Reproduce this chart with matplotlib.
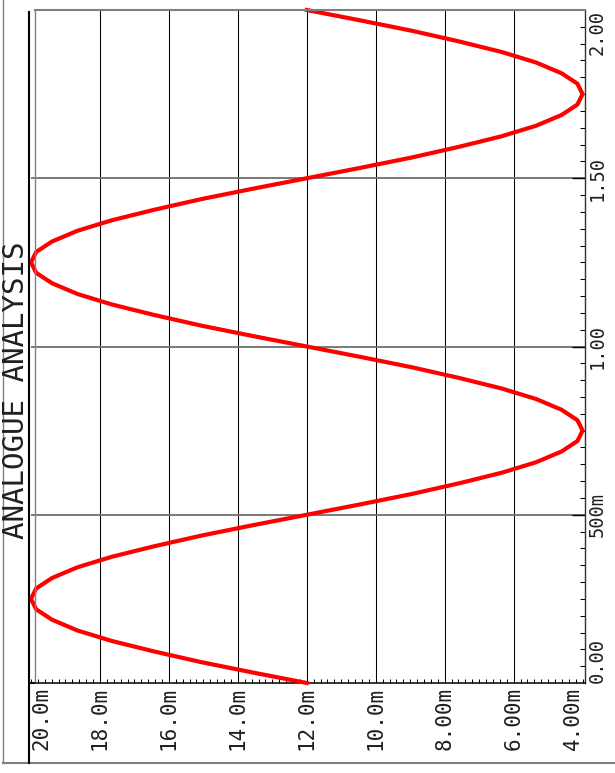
import numpy as np
import matplotlib
matplotlib.use("Agg")
import matplotlib.pyplot as plt
from matplotlib.lines import Line2D

# ── Dados ─────────────────────────────────────────────────────────────────────
# tempo (s) e tensão (mV) da curva
time_s = [0.000, 0.031, 0.062, 0.094, 0.125, 0.156, 0.188, 0.219,
          0.250, 0.281, 0.312, 0.344, 0.375, 0.406, 0.438, 0.469,
          0.500, 0.531, 0.562, 0.594, 0.625, 0.656, 0.688, 0.719,
          0.750, 0.781, 0.812, 0.844, 0.875, 0.906, 0.938, 0.969,
          1.000, 1.031, 1.062, 1.094, 1.125, 1.156, 1.188, 1.219,
          1.250, 1.281, 1.312, 1.344, 1.375, 1.406, 1.438, 1.469,
          1.500, 1.531, 1.562, 1.594, 1.625, 1.656, 1.688, 1.719,
          1.750, 1.781, 1.812, 1.844, 1.875, 1.906, 1.938, 1.969,
          2.000]
value_mv = [12.00, 13.56, 15.06, 16.44, 17.66, 18.65, 19.39, 19.85,
            20.00, 19.85, 19.39, 18.65, 17.66, 16.44, 15.06, 13.56,
            12.00, 10.44, 8.94, 7.56, 6.34, 5.35, 4.61, 4.15,
            4.00, 4.15, 4.61, 5.35, 6.34, 7.56, 8.94, 10.44,
            12.00, 13.56, 15.06, 16.44, 17.66, 18.65, 19.39, 19.85,
            20.00, 19.85, 19.39, 18.65, 17.66, 16.44, 15.06, 13.56,
            12.00, 10.44, 8.94, 7.56, 6.34, 5.35, 4.61, 4.15,
            4.00, 4.15, 4.61, 5.35, 6.34, 7.56, 8.94, 10.44,
            12.00]

# rótulos dos eixos
v_ticks = [20, 18, 16, 14, 12, 10, 8, 6, 4]
v_labels = ['20.0m', '18.0m', '16.0m', '14.0m', '12.0m',
            '10.0m', '8.00m', '6.00m', '4.00m']
t_ticks = [0.0, 0.5, 1.0, 1.5, 2.0]
t_labels = ['0.00', '500m', '1.00', '1.50', '2.00']
title = 'ANALOGUE ANALYSIS'

# ── Figura (gráfico girado 90°) ───────────────────────────────────────────────
W, H = 615, 773
fig = plt.figure(figsize=(W / 100, H / 100), dpi=100)
fig.patch.set_facecolor('white')

X0, X1, Y0, Y1 = 31, 585, 10, 683          # área do gráfico em pixels
ax = fig.add_axes([X0 / W, 1 - Y1 / H, (X1 - X0) / W, (Y1 - Y0) / H])
ax.set_xlim(20.0, 3.93)
ax.set_ylim(0.0, 2.0)
ax.set_facecolor('white')

for s in ['left', 'top']:
    ax.spines[s].set_visible(False)
ax.spines['right'].set_color('#303030')
ax.spines['right'].set_linewidth(1.0)
ax.spines['bottom'].set_color('black')
ax.spines['bottom'].set_linewidth(1.1)

# grade
ax.set_xticks([18, 16, 14, 12, 10, 8, 6])
ax.set_xticks(np.arange(4.0, 20.01, 0.2), minor=True)
ax.yaxis.tick_right()
ax.set_yticks([0.5, 1.0, 1.5])
ax.set_yticks([t for t in np.arange(0.05, 2.0, 0.05)
               if abs(t / 0.5 - round(t / 0.5)) > 1e-6], minor=True)
ax.grid(axis='x', which='major', color='black', lw=0.75)
ax.grid(axis='y', which='major', color='#707070', lw=1.3)
ax.tick_params(axis='x', which='major', length=0)
ax.tick_params(axis='x', which='minor', direction='in', length=3.0,
               width=0.75, color='black')
ax.tick_params(axis='y', which='major', direction='in', length=9.5,
               width=1.0, color='black')
ax.tick_params(axis='y', which='minor', direction='in', length=3.6,
               width=0.75, color='black')
ax.tick_params(labelbottom=False, labelleft=False, labelright=False)

# curva
ax.plot(value_mv, time_s, color='#ff0000', lw=3.0, clip_on=False, zorder=5)

# rótulos dos eixos (Proteus os mantém dentro da faixa)
mono = 'DejaVu Sans Mono'
for v, lab in zip(v_ticks, v_labels):
    ha = 'left' if v == v_ticks[0] else 'right' if v == v_ticks[-1] else 'center'
    ax.text(v, -4 / (Y1 - Y0), lab, transform=ax.get_xaxis_transform(),
            rotation=90, ha=ha, va='top', fontsize=15, family=mono,
            color='#202020')
for t, lab in zip(t_ticks, t_labels):
    va = 'bottom' if t == t_ticks[0] else 'top' if t == t_ticks[-1] else 'center'
    ax.text(1 + 3 / (X1 - X0), t, lab, transform=ax.get_yaxis_transform(),
            rotation=90, ha='left', va=va, fontsize=13.5, family=mono,
            color='#202020')


# ── Molduras ──────────────────────────────────────────────────────────────────
def fline(xa, ya, xb, yb, **kw):
    fig.add_artist(Line2D([xa / W, xb / W], [1 - ya / H, 1 - yb / H],
                          transform=fig.transFigure, **kw))


fline(3, 0, 3, 763, color='#808080', lw=1.0)
fline(3, 763, W, 763, color='#808080', lw=1.5)
fline(29, 12, 29, 763, color='black', lw=1.5)
fline(35, 10, 35, 683, color='#808080', lw=1.0)
fline(35, 10, 585, 10, color='#808080', lw=1.5)
fline(29, 683, 35, 683, color='black', lw=1.1)

fig.text(16 / W, 1 - 390 / H, title, rotation=90, ha='center', va='center',
         fontsize=21, family=mono, color='#202020')

fig.savefig('out.png', dpi=100)
